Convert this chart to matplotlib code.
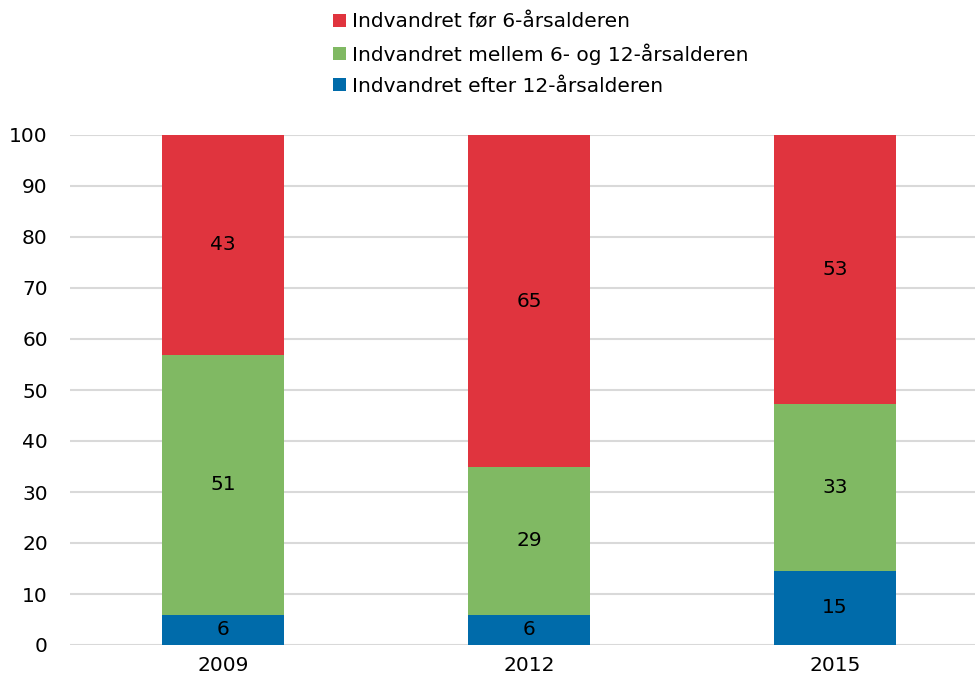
import matplotlib
matplotlib.use('Agg')
import numpy as np
import matplotlib.pyplot as plt

years = ['2009', '2012', '2015']
before_6 = [43.1, 65.1, 52.7]
between_6_12 = [51.0, 29.0, 32.7]
after_12 = [5.9, 5.9, 14.6]
labels = ['Indvandret før 6-årsalderen',
          'Indvandret mellem 6- og 12-årsalderen',
          'Indvandret efter 12-årsalderen']
colors = ['#E0343E', '#80B963', '#006BAA']

plt.rcParams['font.family'] = ['DejaVu Sans']
plt.rcParams['font.size'] = 14.5

fig = plt.figure(figsize=(9.75, 6.84), dpi=100)
ax = fig.add_axes([70 / 975, 39 / 684, 905 / 975, 510 / 684])

x = np.arange(len(years))
w = 0.4
b1 = ax.bar(x, after_12, w, color=colors[2], label=labels[2], zorder=3)
b2 = ax.bar(x, between_6_12, w, bottom=after_12, color=colors[1], label=labels[1], zorder=3)
bottom3 = np.array(after_12) + np.array(between_6_12)
b3 = ax.bar(x, before_6, w, bottom=bottom3, color=colors[0], label=labels[0], zorder=3)

for bars in (b1, b2, b3):
    for rect in bars:
        h = rect.get_height()
        ax.text(rect.get_x() + rect.get_width() / 2, rect.get_y() + h / 2,
                f'{h:.0f}', ha='center', va='center', fontsize=14.5, color='black', zorder=4)

ax.set_ylim(0, 100)
ax.set_xlim(-0.5, -0.5 + 905 / 306)
ax.set_yticks(range(0, 101, 10))
ax.set_xticks(x)
ax.set_xticklabels(years)
ax.grid(axis='y', color='#D9D9D9', linewidth=1.5, zorder=0)
ax.set_axisbelow(True)
for s in ax.spines.values():
    s.set_visible(False)
ax.tick_params(axis='both', length=0)
ax.tick_params(axis='y', pad=16)
ax.tick_params(axis='x', pad=8)

handles = [b3, b2, b1]
fig.legend(handles, labels, loc='upper left', bbox_to_anchor=(315 / 975, 1 + 6 / 684),
           frameon=False, handlelength=0.62, handleheight=0.62, handletextpad=0.3,
           labelspacing=0.6, fontsize=14.5)

fig.savefig('out.png', dpi=100)
